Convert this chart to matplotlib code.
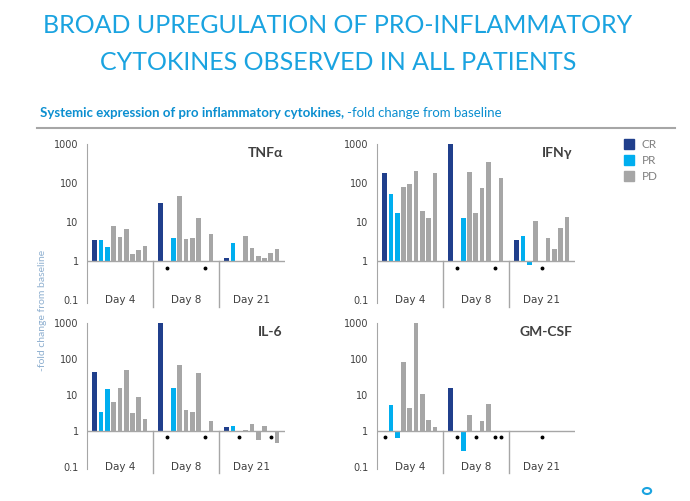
import numpy as np
import matplotlib
matplotlib.use("Agg")
import matplotlib.pyplot as plt
from matplotlib.lines import Line2D
from matplotlib.patches import Circle

# fold change per patient: slot 0 = CR, 1-2 = PR, 3-8 = PD ; None = not available
days = ["Day 4", "Day 8", "Day 21"]
groups = ["CR", "PR", "PR", "PD", "PD", "PD", "PD", "PD", "PD"]

tnf = [[3.4, 3.4, 2.3, 7.9, 4.2, 6.5, 1.5, 1.9, 2.4],
       [32, None, 3.9, 46, 3.7, 4.0, 12.6, None, 5.0],
       [1.2, 2.9, 1.02, 4.5, 2.2, 1.35, 1.24, 1.6, 2.0]]
ifn = [[180, 52, 17, 82, 93, 210, 19, 13, 178],
       [1000, None, 13, 200, 17, 77, 345, None, 135],
       [3.4, 4.4, 0.79, 10.6, None, 4.0, 2.1, 6.9, 14]]
il6 = [[45, 3.4, 15, 6.4, 15.6, 50, 3.2, 8.8, 2.1],
       [1000, None, 15.6, 68, 3.8, 3.3, 40, None, 1.9],
       [1.3, 1.38, None, 1.07, 1.6, 0.56, 1.35, None, 0.45]]
gmcsf = [[None, 5.2, 0.65, 85, 4.3, 1000, 10.4, 2.0, 1.3],
         [15.4, None, 0.28, 2.7, None, 1.9, 5.7, None, None],
         [1, 1, 1, 1, None, 1, 1, 1, 1]]

colors = {"CR": "#203f8c", "PR": "#00aeef", "PD": "#a6a6a6"}
axis_gray = "#a6a6a6"
blue = "#1aa3e0"

fig = plt.figure(figsize=(6.9, 5.01), dpi=100)

# Title
fig.text(0.49, 0.949, "BROAD UPREGULATION OF PRO-INFLAMMATORY", ha="center", va="center",
         fontsize=18, color=blue, family="Lato")
fig.text(0.49, 0.876, "CYTOKINES OBSERVED IN ALL PATIENTS", ha="center", va="center",
         fontsize=18, color=blue, family="Lato")

# subtitle, bold + regular parts
t1 = fig.text(0.058, 0.774, "Systemic expression of pro inflammatory cytokines,", ha="left",
              va="center", fontsize=9.5, color="#0b8fd0", fontweight="bold", family="Lato")
fig.canvas.draw()
bb = t1.get_window_extent(fig.canvas.get_renderer())
fig.text(bb.x1 / fig.dpi / 6.9 + 0.004, 0.774, "-fold change from baseline", ha="left",
         va="center", fontsize=9.5, color="#0b8fd0", family="Lato")
fig.add_artist(Line2D([0.054, 0.978], [0.745, 0.745], color="#a6a6a6", lw=1.5))

fig.text(0.062, 0.381, "-fold change from baseline", rotation=90, ha="center", va="center",
         fontsize=7.5, color="#8fb0d0", family="Lato")

panels = [("TNF\u03b1", tnf, [0.126, 0.401, 0.287, 0.311]),
          ("IFN\u03b3", ifn, [0.546, 0.401, 0.287, 0.311]),
          ("IL-6", il6, [0.126, 0.068, 0.287, 0.287]),
          ("GM-CSF", gmcsf, [0.546, 0.068, 0.287, 0.287])]

gw = 10.5
for name, data, rect in panels:
    ax = fig.add_axes(rect)
    ax.set_yscale("log")
    for g, vals in enumerate(data):
        for s, v in enumerate(vals):
            x = g * gw + 1.25 + s
            if v is None:
                ax.plot(x, 0.68, "o", color="black", ms=1.8, clip_on=False)
            else:
                ax.bar(x, v - 1, bottom=1, width=0.75, color=colors[groups[s]], linewidth=0)
        ax.text(g * gw + gw / 2, 0.102, days[g], ha="center", va="center", fontsize=7.5,
                color="#404040")
        if g > 0:
            ax.plot([g * gw, g * gw], [1, 0.066], color=axis_gray, lw=1, clip_on=False)
    ax.axhline(1, color=axis_gray, lw=1)
    ax.set_xlim(0, 3 * gw)
    ax.set_ylim(0.1, 1000)
    ax.set_yticks([0.1, 1, 10, 100, 1000])
    ax.set_yticklabels(["0.1", "1", "10", "100", "1000"])
    ax.minorticks_off()
    ax.set_xticks([])
    ax.tick_params(axis="y", length=0, labelsize=7, labelcolor="#404040", pad=6)
    for sp in ["top", "right", "bottom"]:
        ax.spines[sp].set_visible(False)
    ax.spines["left"].set_color(axis_gray)
    ax.spines["left"].set_bounds(0.085, 1000)
    ax.patch.set_alpha(0)
    ax.text(0.99, 0.98, name, transform=ax.transAxes, ha="right", va="top", fontsize=10,
            fontweight="bold", color="#404040", family="Lato")

# legend
for i, lab in enumerate(["CR", "PR", "PD"]):
    y = 1 - (144 + i * 16) / 501
    fig.add_artist(Line2D([629 / 690], [y], marker="s", ms=7, color=colors[lab], lw=0))
    fig.text(642 / 690, y, lab, ha="left", va="center", fontsize=8.5, color="#808080",
             family="Lato")

# logo remnant bottom right
fig.add_artist(Circle((647 / 690, 1 - 491 / 501), 0.006, transform=fig.transFigure,
                      fill=False, ec="#1aa3e0", lw=1.5))

fig.savefig("out.png", dpi=100)
